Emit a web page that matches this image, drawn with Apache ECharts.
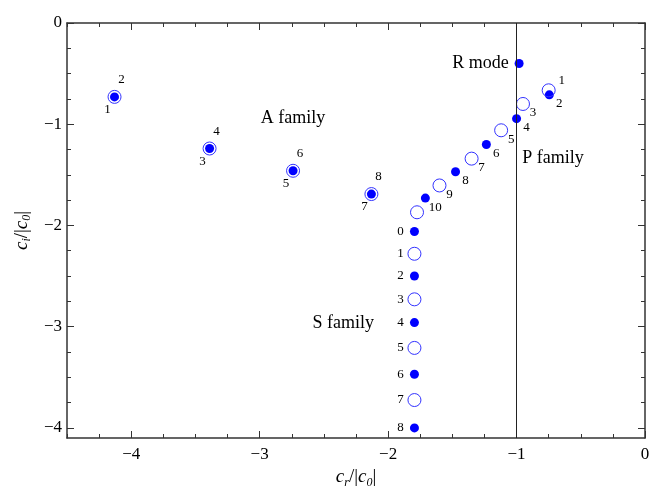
<!DOCTYPE html>
<html>
<head>
<meta charset="utf-8">
<script src="https://cdn.jsdelivr.net/npm/echarts@6/dist/echarts.min.js"></script>
<style>
  html, body { margin: 0; padding: 0; background: #fff; }
  #chart { width: 664px; height: 498px; }
</style>
</head>
<body>
<div id="chart"></div>
<script>
// tick labels
const xTicks = [-4, -3, -2, -1, 0];
const yTicks = [0, -1, -2, -3, -4];

// A family: filled dot + ring at the same spot (odd label low-left, even label up-right)
const aX = [-4.13, -3.39, -2.74, -2.13];
const aY = [-0.73, -1.24, -1.46, -1.69];
const aLowLabels = ['1', '3', '5', '7'];
const aHighLabels = ['2', '4', '6', '8'];

// P family
const pOpenX = [-0.75, -0.95, -1.12, -1.35, -1.60, -1.775];
const pOpenY = [-0.665, -0.80, -1.06, -1.34, -1.605, -1.87];
const pOpenLabels = ['1', '3', '5', '7', '9', ''];
const pFilledX = [-0.745, -1.0, -1.235, -1.475, -1.71];
const pFilledY = [-0.71, -0.945, -1.20, -1.47, -1.73];
const pFilledLabels = ['2', '4', '6', '8', '10'];

// S family
const sX = -1.795;
const sFilledY = [-2.06, -2.50, -2.96, -3.47, -4.00];
const sFilledLabels = ['0', '2', '4', '6', '8'];
const sOpenY = [-2.28, -2.73, -3.21, -3.725];
const sOpenLabels = ['1', '3', '5', '7'];

// R mode
const rX = [-0.98];
const rY = [-0.40];

// family names
const famNames = ['A family', 'P family', 'S family'];
const famX = [-2.74, -0.955, -2.35];
const famY = [-0.945, -1.34, -2.965];
const famAlign = ['center', 'left', 'center'];

const FONT = 'Liberation Serif';
const BLUE = '#0000ff';
const RING = '#3333ff';
const minus = v => (v < 0 ? '\u2212' + Math.abs(v) : String(v));

let quarterX = [];
for (let v = -4.5; v <= 0.001; v += 0.25) quarterX.push(+v.toFixed(2));
let quarterY = [];
for (let v = -4; v <= 0.001; v += 0.25) quarterY.push(+v.toFixed(2));

function makeAxis(dim, pos, major, withLabels) {
  const isX = dim === 'x';
  return {
    type: 'value',
    position: pos,
    min: isX ? -4.5 : -4.1,
    max: 0,
    axisLine: {show: major, onZero: false, lineStyle: {color: '#333', width: 1.5}},
    axisTick: {
      show: true,
      inside: true,
      length: major ? 7 : 4,
      customValues: major ? (isX ? xTicks : yTicks) : (isX ? quarterX : quarterY),
      lineStyle: {color: '#333', width: 1}
    },
    axisLabel: {
      show: withLabels,
      customValues: isX ? xTicks : yTicks,
      formatter: minus,
      margin: isX ? 8 : 5,
      color: '#000',
      fontFamily: FONT,
      fontSize: 17
    },
    splitLine: {show: false}
  };
}

const nameRich = {
  i: {fontFamily: FONT, fontStyle: 'italic', fontSize: 19, lineHeight: 22, verticalAlign: 'middle', color: '#000'},
  n: {fontFamily: FONT, fontSize: 19, lineHeight: 22, verticalAlign: 'middle', color: '#000'},
  s: {fontFamily: FONT, fontStyle: 'italic', fontSize: 12, lineHeight: 13, verticalAlign: 'bottom', color: '#000'}
};

const xMain = makeAxis('x', 'bottom', true, true);
xMain.name = '{i|c}{s|r}{n|/|}{i|c}{s|0}{n||}';
xMain.nameLocation = 'middle';
xMain.nameGap = 27;
xMain.nameTextStyle = {rich: nameRich};

const yMain = makeAxis('y', 'left', true, true);
yMain.name = '{i|c}{s|i}{n|/|}{i|c}{s|0}{n||}';
yMain.nameLocation = 'middle';
yMain.nameGap = 33;
yMain.nameTextStyle = {rich: nameRich};

function numLabel(texts, offset) {
  return {
    show: true,
    position: 'inside',
    offset: offset,
    formatter: p => texts[p.dataIndex],
    color: '#000',
    fontFamily: FONT,
    fontSize: 13
  };
}

function pts(xs, ys) {
  return ys.map((y, i) => [Array.isArray(xs) ? xs[i] : xs, y]);
}

function filled(data, label) {
  return {
    type: 'scatter', symbol: 'circle', symbolSize: 9,
    itemStyle: {color: BLUE, opacity: 1},
    data: data, label: label, z: 3
  };
}

function ring(data, label) {
  return {
    type: 'scatter', symbol: 'circle', symbolSize: 13,
    itemStyle: {color: 'rgba(0,0,0,0)', borderColor: RING, borderWidth: 1, opacity: 1},
    data: data, label: label, z: 4
  };
}

const pOpenSeries = ring(pts(pOpenX, pOpenY), numLabel(pOpenLabels, [10, 9]));
pOpenSeries.data = pOpenSeries.data.map((d, i) => i === 0 ? {value: d, label: {offset: [13, -10]}} : d);

const option = {
  animation: false,
  backgroundColor: '#fff',
  grid: {left: 67, right: 19, top: 23, bottom: 60},
  xAxis: [
    xMain,
    makeAxis('x', 'bottom', false, false),
    makeAxis('x', 'top', true, false),
    makeAxis('x', 'top', false, false)
  ],
  yAxis: [
    yMain,
    makeAxis('y', 'left', false, false),
    makeAxis('y', 'right', true, false),
    makeAxis('y', 'right', false, false)
  ],
  series: [
    {
      type: 'scatter',
      data: [],
      markLine: {
        silent: true,
        symbol: 'none',
        label: {show: false},
        lineStyle: {color: '#222', width: 1, type: 'solid'},
        data: [{xAxis: -1}]
      }
    },
    ring(pts(aX, aY), numLabel(aHighLabels, [7, -17])),
    filled(pts(aX, aY), numLabel(aLowLabels, [-7, 13])),
    pOpenSeries,
    filled(pts(pFilledX, pFilledY), numLabel(pFilledLabels, [10, 9])),
    filled(pts(sX, sFilledY), numLabel(sFilledLabels, [-14, 0])),
    ring(pts(sX, sOpenY), numLabel(sOpenLabels, [-14, 0])),
    filled(pts(rX, rY), {
      show: true, position: 'left', distance: 6, formatter: 'R mode',
      color: '#000', fontFamily: FONT, fontSize: 18
    }),
    {
      type: 'scatter',
      symbolSize: 0,
      itemStyle: {opacity: 1},
      data: famNames.map((n, i) => ({
        value: [famX[i], famY[i]],
        label: {align: famAlign[i]}
      })),
      label: {
        show: true,
        position: 'inside',
        formatter: p => famNames[p.dataIndex],
        color: '#000',
        fontFamily: FONT,
        fontSize: 18
      }
    }
  ]
};

const chart = echarts.init(document.getElementById('chart'), null, {renderer: 'canvas'});
chart.setOption(option);
</script>
</body>
</html>
